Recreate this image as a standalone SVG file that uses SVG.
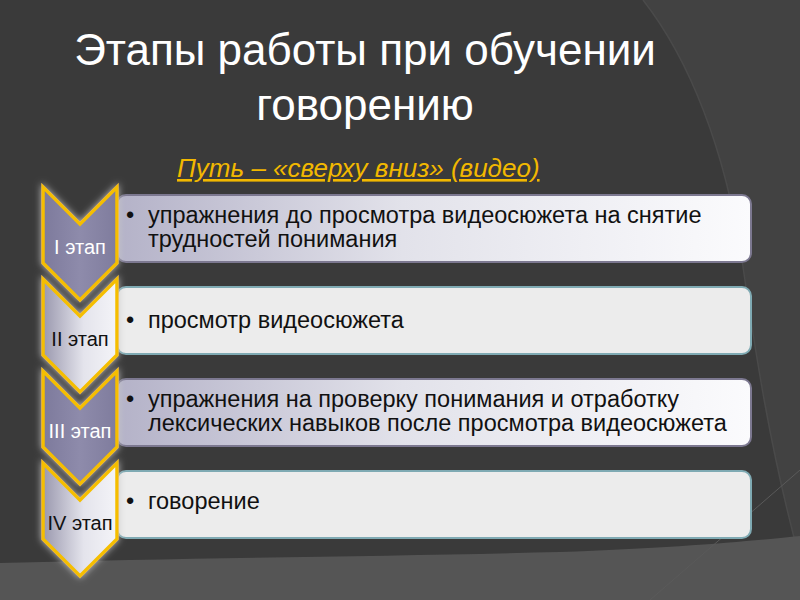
<svg xmlns="http://www.w3.org/2000/svg" width="800" height="600" viewBox="0 0 800 600">
<defs>
  <linearGradient id="chevDark" x1="0" y1="0" x2="1" y2="0">
    <stop offset="0" stop-color="#7d7a9c"/>
    <stop offset="0.5" stop-color="#8e8bab"/>
    <stop offset="1" stop-color="#7f7c9d"/>
  </linearGradient>
  <linearGradient id="chevLight" x1="0" y1="0" x2="1" y2="0">
    <stop offset="0" stop-color="#9a98ae"/>
    <stop offset="0.55" stop-color="#e4e4ec"/>
    <stop offset="1" stop-color="#f4f4f8"/>
  </linearGradient>
  <linearGradient id="boxDark" x1="0" y1="0" x2="1" y2="0">
    <stop offset="0" stop-color="#b4b2c8"/>
    <stop offset="0.45" stop-color="#e2e2ea"/>
    <stop offset="1" stop-color="#fbfbfd"/>
  </linearGradient>
  <filter id="glow" x="-30%" y="-20%" width="160%" height="140%">
    <feGaussianBlur in="SourceAlpha" stdDeviation="3.5" result="b"/>
    <feFlood flood-color="#c8c8c8" flood-opacity="0.9"/>
    <feComposite in2="b" operator="in" result="g"/>
    <feMerge><feMergeNode in="g"/><feMergeNode in="SourceGraphic"/></feMerge>
  </filter>
  <path id="chev" d="M0,0 L37,37 L74,0 L74,76 L37,113 L0,76 Z"/>
</defs>
<style>
  .cd { fill: url(#chevDark); stroke: #f5be00; stroke-width: 3.5; stroke-linejoin: miter; }
  .cl { fill: url(#chevLight); stroke: #f5be00; stroke-width: 3.5; stroke-linejoin: miter; }
  .bd { fill: url(#boxDark); stroke: #7c7890; stroke-width: 2; }
  .bl { fill: #ececec; stroke: #7faab3; stroke-width: 2; }
  .stage { font-family: "Liberation Sans", Arial, sans-serif; font-size: 20px; text-anchor: middle; }
  .item { font-family: "Liberation Sans", Arial, sans-serif; font-size: 23.5px; fill: #111; }
  .title { font-family: "Liberation Sans", Arial, sans-serif; font-size: 44px; fill: #ffffff; text-anchor: middle; }
  .sub { font-family: "Liberation Sans", Arial, sans-serif; font-size: 26px; font-style: italic; fill: #f2b800; text-decoration: underline; }
</style>
<rect width="800" height="600" fill="#3a3a3a"/>
<path d="M643,0 C690,60 725,150 742,260 C755,350 770,450 800,560 L800,0 Z" fill="#424242"/>
<path d="M643,0 C690,60 725,150 742,260 C755,350 770,450 800,560" fill="none" stroke="#4a4a4a" stroke-width="1.5"/>
<path d="M0,563 C200,558 400,556 560,552 C680,548 760,540 800,536 L800,600 L0,600 Z" fill="#555555"/>
<path d="M800,470 L650,600" stroke="#5a5a5a" stroke-width="1" fill="none"/>

<text class="title" x="365" y="65">Этапы работы при обучении</text>
<text class="title" x="365" y="120">говорению</text>
<text class="sub" x="177" y="177">Путь – «сверху вниз» (видео)</text>

<g id="stage1">
  <rect class="bd" x="117" y="195" width="634" height="67" rx="9"/>
  <use href="#chev" class="cd" x="43" y="187" filter="url(#glow)"/>
  <text class="stage" x="80" y="254" fill="#ffffff">I этап</text>
  <text class="item" x="126" y="223">•</text>
  <text class="item" x="148" y="223">упражнения до просмотра видеосюжета на снятие</text>
  <text class="item" x="148" y="247">трудностей понимания</text>
</g>
<g id="stage2">
  <rect class="bl" x="117" y="287" width="634" height="67" rx="9"/>
  <use href="#chev" class="cl" x="43" y="279" filter="url(#glow)"/>
  <text class="stage" x="80" y="346" fill="#111111">II этап</text>
  <text class="item" x="126" y="328">•</text>
  <text class="item" x="148" y="328">просмотр видеосюжета</text>
</g>
<g id="stage3">
  <rect class="bd" x="117" y="379" width="634" height="67" rx="9"/>
  <use href="#chev" class="cd" x="43" y="371" filter="url(#glow)"/>
  <text class="stage" x="80" y="438" fill="#ffffff">III этап</text>
  <text class="item" x="126" y="407">•</text>
  <text class="item" x="148" y="407">упражнения на проверку понимания и отработку</text>
  <text class="item" x="148" y="431">лексических навыков после просмотра видеосюжета</text>
</g>
<g id="stage4">
  <rect class="bl" x="117" y="471" width="634" height="67" rx="9"/>
  <use href="#chev" class="cl" x="43" y="463" filter="url(#glow)"/>
  <text class="stage" x="80" y="530" fill="#111111">IV этап</text>
  <text class="item" x="126" y="509">•</text>
  <text class="item" x="148" y="509">говорение</text>
</g>
<g id="connectors"></g>
</svg>
